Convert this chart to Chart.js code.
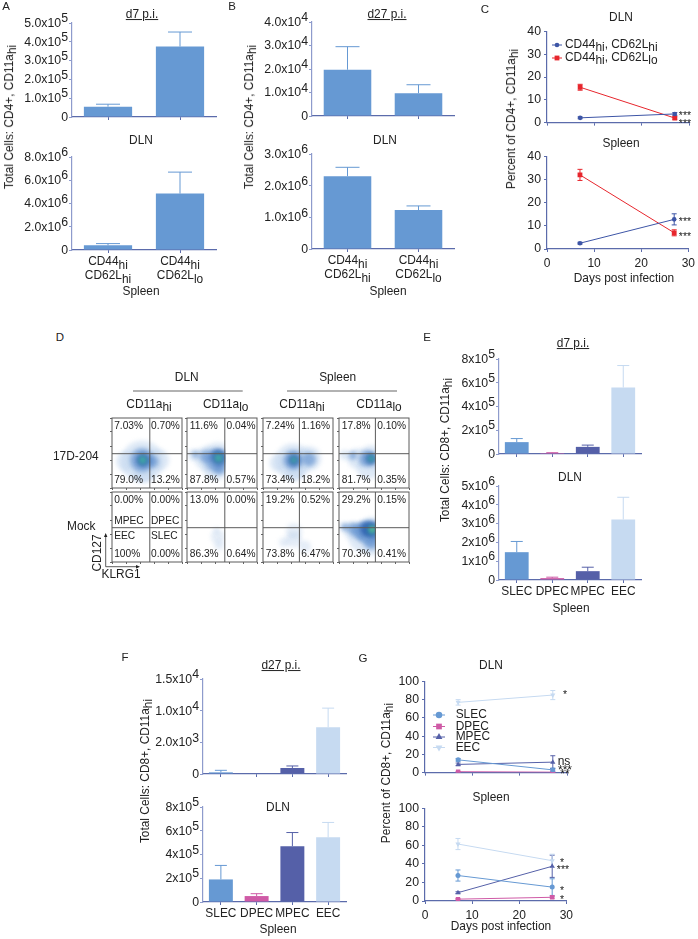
<!DOCTYPE html>
<html>
<head>
<meta charset="utf-8">
<script src="https://cdn.jsdelivr.net/npm/chart.js@4"></script>
<style>
  body { margin: 0; background: #fff; }
  #fig { position: relative; width: 698px; height: 939px; overflow: hidden; font-family: "Liberation Sans", Arial, sans-serif; color: #222; }
  #fig canvas { position: absolute; }
  .t { position: absolute; white-space: nowrap; line-height: 1; }
  .t sub { font-size: 1em; vertical-align: -0.28em; line-height: 0; }
</style>
</head>
<body>
<div id="fig"></div>
<script>
// category labels
const cd4Cats = ['CD44_{hi}|CD62L_{hi}', 'CD44_{hi}|CD62L_{lo}'];
const cd8Cats = ['SLEC', 'DPEC', 'MPEC', 'EEC'];
const days = [7, 27];

// panel A
const aTopVals = [5.5e4, 3.75e5];
const aTopUpper = [6.8e4, 4.52e5];
const aTopTicks = [0, 1e5, 2e5, 3e5, 4e5, 5e5];
const aTopLabels = ['0', '1.0x10^{5}', '2.0x10^{5}', '3.0x10^{5}', '4.0x10^{5}', '5.0x10^{5}'];
const aBotVals = [4e5, 4.85e6];
const aBotUpper = [5.5e5, 6.7e6];
const aBotTicks = [0, 2e6, 4e6, 6e6, 8e6];
const aBotLabels = ['0', '2.0x10^{6}', '4.0x10^{6}', '6.0x10^{6}', '8.0x10^{6}'];

// panel B
const bTopVals = [1.97e4, 9.7e3];
const bTopUpper = [2.95e4, 1.33e4];
const bTopTicks = [0, 1e4, 2e4, 3e4, 4e4];
const bTopLabels = ['0', '1.0x10^{4}', '2.0x10^{4}', '3.0x10^{4}', '4.0x10^{4}'];
const bBotVals = [2.3e6, 1.23e6];
const bBotUpper = [2.58e6, 1.36e6];
const bBotTicks = [0, 1e6, 2e6, 3e6];
const bBotLabels = ['0', '1.0x10^{6}', '2.0x10^{6}', '3.0x10^{6}'];

// panel C, percent of CD4+
const cDlnHi = [2.1, 3.8];
const cDlnHiErr = [0.4, 0.6];
const cDlnLo = [15.5, 2];
const cDlnLoErr = [1.3, 0.5];
const cSplHi = [2.5, 12.8];
const cSplHiErr = [0.4, 2.4];
const cSplLo = [32, 7];
const cSplLoErr = [2.4, 1.3];

// panel E
const eTopVals = [1e5, 8e3, 6e4, 5.6e5];
const eTopUpper = [1.3e5, 1.1e4, 7.5e4, 7.45e5];
const eTopTicks = [0, 2e5, 4e5, 6e5, 8e5];
const eTopLabels = ['0', '2x10^{5}', '4x10^{5}', '6x10^{5}', '8x10^{5}'];
const eBotVals = [1.48e6, 1e5, 4.7e5, 3.22e6];
const eBotUpper = [2.05e6, 1.5e5, 6.8e5, 4.4e6];
const eBotTicks = [0, 1e6, 2e6, 3e6, 4e6, 5e6];
const eBotLabels = ['0', '1x10^{6}', '2x10^{6}', '3x10^{6}', '4x10^{6}', '5x10^{6}'];

// panel F, the top axis is labelled unevenly in the source
const fTopVals = [260, 0, 950, 7400];
const fTopUpper = [580, 0, 1270, 10400];
const fTopTicks = [0, 5000, 10000, 15000];
const fTopLabels = ['0', '2.0x10^{3}', '1.0x10^{4}', '1.5x10^{4}'];
const fBotVals = [1.9e5, 5e4, 4.7e5, 5.45e5];
const fBotUpper = [3.08e5, 7e4, 5.85e5, 6.7e5];
const fBotTicks = [0, 2e5, 4e5, 6e5, 8e5];
const fBotLabels = ['0', '2x10^{5}', '4x10^{5}', '6x10^{5}', '8x10^{5}'];

// panel G, percent of CD8+
const gDlnSlec = [14, 3];
const gDlnSlecErr = [1.5, 2];
const gDlnDpec = [1, 0.5];
const gDlnDpecErr = [0.4, 0.4];
const gDlnMpec = [9, 11.5];
const gDlnMpecErr = [1.5, 7];
const gDlnEec = [77, 85];
const gDlnEecErr = [3, 5];
const gSplSlec = [27.5, 15];
const gSplSlecErr = [6, 9];
const gSplDpec = [2, 4];
const gSplDpecErr = [0.6, 1];
const gSplMpec = [9, 37.5];
const gSplMpecErr = [1, 12];
const gSplEec = [61.5, 43.5];
const gSplEecErr = [6, 7];

// panel D, density blobs: x, y, radius, shade
const dR1C1 = [[43, 38, 21, 0], [20, 38, 10, 0], [66, 40, 11, 0], [45, 24, 11, 0], [43, 40, 12, 1], [58, 38, 6, 1], [44, 40, 7, 2], [44, 40, 4, 3]];
const dR1C2 = [[28, 42, 12, 0], [10, 47, 6, 0], [40, 28, 12, 0], [44, 42, 16, 0], [12, 48, 3, 1], [26, 45, 6, 1], [42, 40, 11, 1], [46, 28, 6, 1], [45, 44, 8, 2], [45, 43, 4, 3]];
const dR1C3 = [[43, 38, 18, 0], [22, 36, 9, 0], [66, 42, 12, 0], [45, 24, 10, 0], [43, 40, 10, 1], [66, 41, 7, 1], [44, 40, 6, 2], [44, 40, 3, 3]];
const dR1C4 = [[26, 42, 10, 0], [8, 47, 5, 0], [42, 30, 12, 0], [46, 44, 12, 0], [20, 46, 4, 1], [40, 42, 8, 1], [46, 42, 6, 2], [46, 42, 3, 3]];
const dR2C1 = [];
const dR2C2 = [[44, 36, 7, 4], [46, 24, 5, 4], [42, 45, 3, 4]];
const dR2C3 = [[44, 44, 8, 4], [44, 32, 8, 4], [60, 22, 6, 4], [30, 28, 5, 4]];
const dR2C4 = [[18, 44, 8, 0], [34, 34, 14, 0], [47, 22, 9, 0], [47, 44, 14, 0], [8, 50, 4, 1], [20, 48, 6, 1], [32, 44, 9, 1], [42, 42, 12, 1], [47, 28, 7, 1], [40, 47, 7, 2], [47, 46, 8, 2], [47, 46, 4, 3], [48, 47, 2, 5]];
const dCols = [111.7, 187.3, 263.3, 339.3];
const dRows = [417.7, 492.3];
const dSplitX = [54, 54, 52, 52];
const dSplitY = [49, 49];
const dPercents = [
  [['7.03%', '0.70%', '79.0%', '13.2%'], ['11.6%', '0.04%', '87.8%', '0.57%'], ['7.24%', '1.16%', '73.4%', '18.2%'], ['17.8%', '0.10%', '81.7%', '0.35%']],
  [['0.00%', '0.00%', '100%', '0.00%'], ['13.0%', '0.00%', '86.3%', '0.64%'], ['19.2%', '0.52%', '73.8%', '6.47%'], ['29.2%', '0.15%', '70.3%', '0.41%']]
];
const dBlobs = [[dR1C1, dR1C2, dR1C3, dR1C4], [dR2C1, dR2C2, dR2C3, dR2C4]];
const dShades = ['rgba(190,212,238,0.5)', 'rgba(98,146,208,0.65)', 'rgba(48,100,176,0.8)', 'rgba(62,176,160,0.85)', 'rgba(170,195,228,0.3)', 'rgba(120,210,120,0.9)'];

const C_SLEC = '#6699d3', C_DPEC = '#cf5aa6', C_MPEC = '#5560a8', C_EEC = '#c6daf1';
const C_BLUE = '#3d55a6', C_RED = '#e7262d';
const AXIS_Y = '#8e9bcc', AXIS_X = '#5b6bab';
const LABEL = 11.9;

const fig = document.getElementById('fig');

function text(x, y, html, o) {
  o = o || {};
  const el = document.createElement('div');
  el.className = 't';
  el.innerHTML = html;
  el.style.left = x + 'px';
  el.style.top = y + 'px';
  el.style.fontSize = (o.size || LABEL) + 'px';
  if (o.u) el.style.textDecoration = 'underline';
  const tx = o.a === 'l' ? '0' : o.a === 'r' ? '-100%' : '-50%';
  el.style.transform = `translate(${tx},-50%)` + (o.rot ? ` rotate(${o.rot}deg)` : '');
  fig.appendChild(el);
}

// canvas text with raised exponents and lowered subscripts
function drawRich(ctx, str, x, y, align, size) {
  const parts = [];
  const re = /([_^])\{([^}]*)\}|([^_^]+)/g;
  let m;
  while ((m = re.exec(str))) parts.push(m[3] ? { s: m[3], dy: 0 } : { s: m[2], dy: m[1] === '^' ? -size * 0.38 : size * 0.28 });
  ctx.font = size + 'px "Liberation Sans", Arial, sans-serif';
  ctx.textBaseline = 'middle';
  ctx.textAlign = 'left';
  ctx.fillStyle = '#222';
  const total = parts.reduce((w, p) => w + ctx.measureText(p.s).width, 0);
  let px = align === 'right' ? x - total : align === 'center' ? x - total / 2 : x;
  parts.forEach(p => {
    ctx.fillText(p.s, px, y + p.dy);
    px += ctx.measureText(p.s).width;
  });
}

const richTicks = {
  id: 'richTicks',
  afterDraw(chart, args, o) {
    if (!o.yLabels) return;
    const ctx = chart.ctx, ys = chart.scales.y, xs = chart.scales.x;
    ctx.save();
    o.yValues.forEach((v, i) => drawRich(ctx, o.yLabels[i], ys.left + ys.width - 4, ys.getPixelForValue(v) + 0.5, 'right', 12.3));
    if (o.xLabels) {
      o.xLabels.forEach((lab, i) => {
        lab.split('|').forEach((line, j) => drawRich(ctx, line, xs.getPixelForTick(i), xs.top + 12 + j * 14, 'center', LABEL));
      });
    }
    ctx.restore();
  }
};

// error bars come from dataset.upper (bars) or dataset.err (points)
const errorBars = {
  id: 'errorBars',
  beforeDatasetsDraw(chart) {
    const ctx = chart.ctx, ys = chart.scales.y, xs = chart.scales.x;
    ctx.save();
    chart.data.datasets.forEach((ds) => {
      if (ds.upper) {
        ds.data.forEach((v, i) => {
          if (!ds.upper[i]) return;
          const x = xs.getPixelForTick(i), top = ys.getPixelForValue(ds.upper[i]), base = ys.getPixelForValue(v);
          const col = ds.backgroundColor[i];
          const cap = ds.capW;
          ctx.strokeStyle = col;
          ctx.lineWidth = 1;
          ctx.beginPath();
          ctx.moveTo(x, base); ctx.lineTo(x, top);
          ctx.moveTo(x - cap, top); ctx.lineTo(x + cap, top);
          ctx.stroke();
        });
      }
      if (ds.err) {
        ds.data.forEach((p, i) => {
          const x = xs.getPixelForValue(p.x);
          const a = ys.getPixelForValue(p.y + ds.err[i]), b = ys.getPixelForValue(p.y - ds.err[i]);
          ctx.strokeStyle = ds.borderColor;
          ctx.lineWidth = 1;
          ctx.beginPath();
          ctx.moveTo(x, a); ctx.lineTo(x, b);
          ctx.moveTo(x - 2.5, a); ctx.lineTo(x + 2.5, a);
          ctx.moveTo(x - 2.5, b); ctx.lineTo(x + 2.5, b);
          ctx.stroke();
        });
      }
    });
    ctx.restore();
  }
};

function addCanvas(x0, x1, y0, y1, ml, mr, mt, mb) {
  const c = document.createElement('canvas');
  c.width = Math.round(x1 - x0 + ml + mr);
  c.height = Math.round(y1 - y0 + mt + mb);
  c.style.left = Math.round(x0 - ml) + 'px';
  c.style.top = Math.round(y0 - mt) + 'px';
  fig.appendChild(c);
  return c;
}

const fitW = w => s => { s.width = w; };
const fitH = h => s => { s.height = h; };

function barPanel(box, cats, vals, upper, colors, yTicks, yLabels, capW, xMode) {
  const [x0, x1, y0, y1] = box;
  const ml = 62, mr = 2, mt = 12, mb = xMode ? 36 : 6;
  const c = addCanvas(x0, x1, y0, y1, ml, mr, mt, mb);
  new Chart(c, {
    type: 'bar',
    data: { labels: cats, datasets: [{ data: vals, upper: upper, capW: capW, backgroundColor: colors, borderWidth: 0, barPercentage: 0.67, categoryPercentage: 1 }] },
    options: {
      responsive: false, animation: false,
      layout: { autoPadding: false, padding: { top: mt, right: mr, left: 0, bottom: 0 } },
      plugins: { legend: { display: false }, tooltip: { enabled: false }, richTicks: { yValues: yTicks, yLabels: yLabels, xLabels: xMode === 'rich' ? cats : null } },
      scales: {
        x: {
          afterFit: fitH(mb),
          border: { color: AXIS_X, width: 1.2 },
          grid: { offset: false, drawOnChartArea: false, tickLength: 3, tickColor: AXIS_X },
          ticks: { display: xMode === 'plain', padding: 2, maxRotation: 0, autoSkip: false, color: '#222', font: { size: 11.9, family: 'Liberation Sans' } }
        },
        y: {
          min: yTicks[0], max: yTicks[yTicks.length - 1],
          afterFit: fitW(ml),
          afterBuildTicks: s => { s.ticks = yTicks.map(v => ({ value: v })); },
          border: { color: AXIS_Y, width: 1.2 },
          grid: { drawOnChartArea: false, tickLength: 3, tickColor: AXIS_Y },
          ticks: { display: false }
        }
      }
    },
    plugins: [richTicks, errorBars]
  });
}

function series(vals, err, color, style, radius, rotation) {
  return {
    data: days.map((d, i) => ({ x: d, y: vals[i] })), err: err, showLine: true,
    borderColor: color, backgroundColor: color, borderWidth: 1, pointStyle: style,
    pointRadius: radius, pointRotation: rotation || 0, pointBorderWidth: 0
  };
}

function linePanel(box, datasets, yMax, yStep, showX, key) {
  const [x0, x1, y0, y1] = box;
  const ml = 36, mr = 10, mt = 8, mb = showX ? 24 : 10;
  const c = addCanvas(x0, x1, y0, y1, ml, mr, mt, mb);
  const keyPlugin = {
    id: 'seriesKey',
    afterDraw(chart) {
      if (!key) return;
      const ctx = chart.ctx, r = c.getBoundingClientRect();
      chart.data.datasets.forEach((ds, i) => {
        const px = key.x - r.left, py = key.ys[i] - r.top;
        ctx.save();
        ctx.strokeStyle = ds.borderColor;
        ctx.fillStyle = ds.backgroundColor;
        ctx.lineWidth = 1;
        ctx.beginPath();
        ctx.moveTo(px - key.len, py); ctx.lineTo(px + key.len, py);
        ctx.stroke();
        Chart.helpers.drawPoint(ctx, { pointStyle: ds.pointStyle, rotation: ds.pointRotation, radius: ds.pointRadius * key.grow, borderWidth: 0 }, px, py);
        ctx.restore();
      });
    }
  };
  new Chart(c, {
    type: 'scatter',
    data: { datasets: datasets },
    options: {
      responsive: false, animation: false,
      layout: { autoPadding: false, padding: { top: mt, right: mr, left: 0, bottom: 0 } },
      plugins: { legend: { display: false }, tooltip: { enabled: false } },
      scales: {
        x: {
          type: 'linear', min: 0, max: 30,
          afterFit: fitH(mb),
          border: { color: AXIS_X, width: 1.2 },
          grid: { drawOnChartArea: false, tickLength: 3, tickColor: AXIS_X },
          ticks: { display: showX, stepSize: 10, padding: 4, maxRotation: 0, color: '#222', font: { size: 12, family: 'Liberation Sans' } }
        },
        y: {
          min: 0, max: yMax,
          afterFit: fitW(ml),
          border: { color: AXIS_X, width: 1.2 },
          grid: { drawOnChartArea: false, tickLength: 3, tickColor: AXIS_X },
          ticks: { stepSize: yStep, padding: 3, color: '#222', font: { size: 12.3, family: 'Liberation Sans' } }
        }
      }
    },
    plugins: [errorBars, keyPlugin]
  });
}

const quadrants = {
  id: 'quadrants',
  afterDraw(chart, args, o) {
    const ctx = chart.ctx, a = chart.chartArea;
    const qx = chart.scales.x.getPixelForValue(o.qx), qy = chart.scales.y.getPixelForValue(o.qy);
    ctx.save();
    ctx.strokeStyle = '#5a5a5a';
    ctx.lineWidth = 1;
    ctx.strokeRect(a.left, a.top, a.right - a.left, a.bottom - a.top);
    ctx.beginPath();
    ctx.moveTo(qx, a.top); ctx.lineTo(qx, a.bottom);
    ctx.moveTo(a.left, qy); ctx.lineTo(a.right, qy);
    ctx.stroke();
    ctx.restore();
  }
};
// blur the blobs; CD11a-lo plots stop hard at the vertical gate
const softBlobs = {
  id: 'softBlobs',
  beforeDatasetsDraw(chart, args, o) {
    const ctx = chart.ctx, a = chart.chartArea;
    ctx.save();
    if (o.edge) {
      ctx.beginPath();
      ctx.rect(a.left, a.top, chart.scales.x.getPixelForValue(o.edge) - a.left, a.bottom - a.top);
      ctx.clip();
    }
    ctx.filter = 'blur(2px)';
  },
  afterDatasetsDraw(chart) { chart.ctx.restore(); }
};

function flowPlot(col, row) {
  const x0 = dCols[col], y0 = dRows[row];
  const c = addCanvas(x0, x0 + 70, y0, y0 + 70, 4, 2, 2, 4);
  const blobs = dBlobs[row][col];
  const axisOpts = () => ({
    min: 0, max: 100,
    border: { display: false },
    grid: { drawOnChartArea: false, tickLength: 2, tickColor: '#666' },
    ticks: { display: false, stepSize: 20 }
  });
  new Chart(c, {
    type: 'bubble',
    data: { datasets: [{ data: blobs.map(b => ({ x: b[0], y: b[1], r: b[2] })), backgroundColor: blobs.map(b => dShades[b[3]]), borderWidth: 0 }] },
    options: {
      responsive: false, animation: false,
      layout: { autoPadding: false, padding: { top: 2, right: 2, left: 0, bottom: 0 } },
      plugins: {
        legend: { display: false }, tooltip: { enabled: false },
        quadrants: { qx: dSplitX[col], qy: dSplitY[row] },
        softBlobs: { edge: col % 2 ? dSplitX[col] + 1 : 0 }
      },
      scales: { x: Object.assign(axisOpts(), { afterFit: fitH(4) }), y: Object.assign(axisOpts(), { afterFit: fitW(4) }) }
    },
    plugins: [softBlobs, quadrants]
  });
  const qx = x0 + 70 * dSplitX[col] / 100;
  const p = dPercents[row][col];
  text(x0 + 2.5, y0 + 8, p[0], { a: 'l', size: 10.2 });
  text(qx + 1.5, y0 + 8, p[1], { a: 'l', size: 10.2 });
  text(x0 + 2.5, y0 + 62, p[2], { a: 'l', size: 10.2 });
  text(qx + 1.5, y0 + 62, p[3], { a: 'l', size: 10.2 });
}

const two = [C_SLEC, C_SLEC];
const four = [C_SLEC, C_DPEC, C_MPEC, C_EEC];

// panel A
barPanel([72, 216, 22.7, 116.3], cd4Cats, aTopVals, aTopUpper, two, aTopTicks, aTopLabels, 12);
barPanel([72, 216, 156.7, 250], cd4Cats, aBotVals, aBotUpper, two, aBotTicks, aBotLabels, 12, 'rich');
// panel B
barPanel([311.7, 454, 21.7, 115.7], cd4Cats, bTopVals, bTopUpper, two, bTopTicks, bTopLabels, 12);
barPanel([311.7, 454, 154, 249], cd4Cats, bBotVals, bBotUpper, two, bBotTicks, bBotLabels, 12, 'rich');
// panel C
const cKey = { x: 557, ys: [45, 58], len: 5, grow: 1 };
linePanel([547, 689.3, 29.3, 123.7], [series(cDlnHi, cDlnHiErr, C_BLUE, 'circle', 2.3), series(cDlnLo, cDlnLoErr, C_RED, 'rect', 3.4)], 40, 10, false, cKey);
linePanel([547, 689.3, 154.3, 249], [series(cSplHi, cSplHiErr, C_BLUE, 'circle', 2.3), series(cSplLo, cSplLoErr, C_RED, 'rect', 3.4)], 40, 10, true);
// panel E
barPanel([499.3, 641.7, 359.3, 454], cd8Cats, eTopVals, eTopUpper, four, eTopTicks, eTopLabels, 6);
barPanel([499.3, 641.7, 486, 580], cd8Cats, eBotVals, eBotUpper, four, eBotTicks, eBotLabels, 6, 'plain');
// panel F
barPanel([203.3, 346.7, 679.3, 774], cd8Cats, fTopVals, fTopUpper, four, fTopTicks, fTopLabels, 6);
barPanel([203.3, 346.7, 807.3, 902], cd8Cats, fBotVals, fBotUpper, four, fBotTicks, fBotLabels, 6, 'plain');
// panel G
const gKey = { x: 439, ys: [715, 726.5, 737, 747.5], len: 6, grow: 1.3 };
linePanel([424.7, 566.7, 678.7, 773], [series(gDlnSlec, gDlnSlecErr, C_SLEC, 'circle', 2.5), series(gDlnDpec, gDlnDpecErr, C_DPEC, 'rect', 3.1), series(gDlnMpec, gDlnMpecErr, C_MPEC, 'triangle', 3), series(gDlnEec, gDlnEecErr, C_EEC, 'triangle', 3, 180)], 100, 20, false, gKey);
linePanel([424.7, 566.7, 806.3, 901], [series(gSplSlec, gSplSlecErr, C_SLEC, 'circle', 2.5), series(gSplDpec, gSplDpecErr, C_DPEC, 'rect', 3.1), series(gSplMpec, gSplMpecErr, C_MPEC, 'triangle', 3), series(gSplEec, gSplEecErr, C_EEC, 'triangle', 3, 180)], 100, 20, true);
// panel D
dRows.forEach((_, r) => dCols.forEach((_, c) => flowPlot(c, r)));

// panel letters
[['A', 6, 7], ['B', 232, 7], ['C', 485, 10], ['D', 60, 338], ['E', 427, 338], ['F', 125, 658], ['G', 363, 659]].forEach(l => text(l[1], l[2], l[0], { size: 11.5 }));

// titles
text(142, 15, 'd7 p.i.', { u: true });
text(141, 141, 'DLN');
text(141, 292, 'Spleen');
text(10, 117, 'Total Cells: CD4+, CD11a<sub>hi</sub>', { rot: -90 });
text(387, 15, 'd27 p.i.', { u: true });
text(385, 141, 'DLN');
text(388, 292, 'Spleen');
text(250, 117, 'Total Cells: CD4+, CD11a<sub>hi</sub>', { rot: -90 });
text(621, 18, 'DLN');
text(621, 144, 'Spleen');
text(512, 119, 'Percent of CD4+, CD11a<sub>hi</sub>', { rot: -90 });
text(624, 279, 'Days post infection');
text(565, 45, 'CD44<sub>hi</sub>, CD62L<sub>hi</sub>', { a: 'l' });
text(565, 58, 'CD44<sub>hi</sub>, CD62L<sub>lo</sub>', { a: 'l' });
text(573, 344, 'd7 p.i.', { u: true });
text(570, 478, 'DLN');
text(571, 609, 'Spleen');
text(446, 450, 'Total Cells: CD8+, CD11a<sub>hi</sub>', { rot: -90 });
text(281, 666, 'd27 p.i.', { u: true });
text(278, 808, 'DLN');
text(278, 930, 'Spleen');
text(146, 771, 'Total Cells: CD8+, CD11a<sub>hi</sub>', { rot: -90 });
text(491, 666, 'DLN');
text(491, 798, 'Spleen');
text(387, 773, 'Percent of CD8+, CD11a<sub>hi</sub>', { rot: -90 });
text(501, 927, 'Days post infection');
cd8Cats.forEach((s, i) => text(455.7, gKey.ys[i], s, { a: 'l' }));

// significance marks
[[685, 115], [685, 122.5], [685, 220.5], [685, 235.5]].forEach(p => text(p[0], p[1], '***', { size: 10.5 }));
text(565, 694, '*', { size: 10.5 });
text(564, 760.7, 'ns', { size: 12 });
text(565, 770, '***', { size: 12 });
text(565, 774, '**', { size: 12 });
text(562, 862, '*', { size: 10.5 });
text(563, 869, '***', { size: 10.5 });
text(562, 890, '*', { size: 10.5 });
text(562, 898.5, '*', { size: 10.5 });

// panel D labels
text(186.7, 378, 'DLN');
text(337.7, 378, 'Spleen');
[149, 225.7, 302, 379].forEach((x, i) => text(x, 405, 'CD11a<sub>' + (i % 2 ? 'lo' : 'hi') + '</sub>'));
text(53, 457, '17D-204', { a: 'l' });
text(67, 527, 'Mock', { a: 'l' });
text(98, 552.7, 'CD127', { rot: -90 });
text(121, 575, 'KLRG1');
[['SLEC', 1, 0], ['DPEC', 1, 1], ['EEC', 0, 0], ['MPEC', 0, 1]].forEach(l => {
  const x = l[1] ? 151 : 114.2;
  text(x, l[2] ? 520.5 : 536, l[0], { a: 'l', size: 10.2 });
});

// gating rules and axis arrows
const svg = document.createElementNS('http://www.w3.org/2000/svg', 'svg');
svg.setAttribute('width', 698);
svg.setAttribute('height', 939);
svg.style.position = 'absolute';
svg.style.left = 0;
svg.style.top = 0;
svg.innerHTML = '<line x1="133" y1="391" x2="242.7" y2="391" stroke="#999" stroke-width="1.5"/>' +
  '<line x1="287" y1="391" x2="397" y2="391" stroke="#999" stroke-width="1.5"/>' +
  '<path d="M105.7 536V566.7H138" fill="none" stroke="#333" stroke-width="0.8"/>' +
  '<path d="M105.7 533l-1.7 4h3.4zM140 566.7l-4 -1.7v3.4z" fill="#222"/>';
fig.appendChild(svg);
</script>
</body>
</html>
